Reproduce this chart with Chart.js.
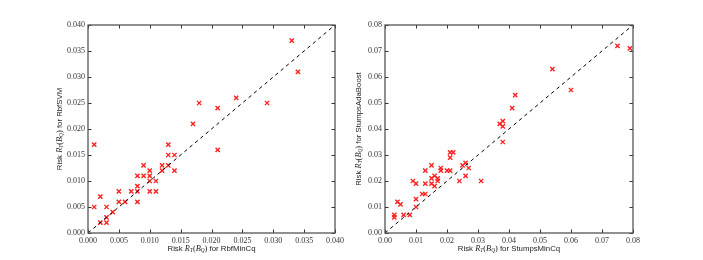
<!DOCTYPE html>
<html><head><meta charset="utf-8">
<script src="https://cdn.jsdelivr.net/npm/chart.js@4"></script>
<style>
html,body{margin:0;padding:0;background:#fff;}
#wrap{position:relative;width:703px;height:260px;}
canvas{position:absolute;top:0;}
</style></head>
<body><div id="wrap">
<canvas id="c1" style="left:0px" width="350" height="260"></canvas>
<canvas id="c2" style="left:350px" width="353" height="260"></canvas>
</div>
<script>
// ---- data (left: RbfMinCq vs RbfSVM) ----
const leftX = [0.001,0.001,0.002,0.002,0.003,0.003,0.003,0.004,0.005,0.005,0.006,0.007,0.008,0.008,0.008,0.008,0.009,0.009,0.010,0.010,0.010,0.010,0.011,0.011,0.012,0.012,0.013,0.013,0.013,0.014,0.014,0.017,0.018,0.021,0.021,0.024,0.029,0.033,0.034];
const leftY = [0.017,0.005,0.007,0.002,0.005,0.003,0.002,0.004,0.008,0.006,0.006,0.008,0.011,0.009,0.008,0.006,0.013,0.011,0.012,0.011,0.010,0.008,0.010,0.008,0.013,0.012,0.017,0.015,0.013,0.015,0.012,0.021,0.025,0.024,0.016,0.026,0.025,0.037,0.031];
const leftTicks = [0,0.005,0.010,0.015,0.020,0.025,0.030,0.035,0.040];
const leftTickLabels = ['0.000','0.005','0.010','0.015','0.020','0.025','0.030','0.035','0.040'];
// ---- data (right: StumpsMinCq vs StumpsAdaBoost) ----
const rightX = [0.003,0.003,0.004,0.005,0.006,0.008,0.009,0.010,0.010,0.010,0.012,0.013,0.013,0.013,0.015,0.015,0.015,0.016,0.016,0.017,0.017,0.018,0.018,0.020,0.021,0.021,0.021,0.022,0.024,0.025,0.026,0.026,0.027,0.031,0.037,0.038,0.038,0.038,0.041,0.042,0.054,0.060,0.075,0.079];
const rightY = [0.007,0.006,0.012,0.011,0.007,0.007,0.020,0.019,0.013,0.010,0.015,0.015,0.024,0.019,0.026,0.021,0.019,0.022,0.018,0.021,0.020,0.025,0.024,0.024,0.024,0.031,0.029,0.031,0.020,0.026,0.027,0.022,0.025,0.020,0.042,0.043,0.041,0.035,0.048,0.053,0.063,0.055,0.072,0.071];
const rightTicks = [0,0.01,0.02,0.03,0.04,0.05,0.06,0.07,0.08];
const rightTickLabels = ['0.00','0.01','0.02','0.03','0.04','0.05','0.06','0.07','0.08'];

const xTitleLeft = ['Risk ', 'for RbfMinCq'];
const yTitleLeft = ['Risk ', 'for RbfSVM'];
const xTitleRight = ['Risk ', 'for StumpsMinCq'];
const yTitleRight = ['Risk ', 'for StumpsAdaBoost'];

const SANS = '"Liberation Sans", Arial, sans-serif';
const SERIF = '"Liberation Serif", "DejaVu Serif", serif';

function drawMathTitle(ctx, parts, cx, cy, rotate) {
  const size = 7.8;
  const segs = [
    {t: parts[0], f: `${size}px ${SANS}`, dy: 0},
    {t: 'R', f: `italic ${size+0.6}px ${SERIF}`, dy: 0},
    {t: 'T', f: `italic ${size-2.5}px ${SERIF}`, dy: 1.8},
    {t: '(', f: `${size+0.6}px ${SERIF}`, dy: 0},
    {t: 'B', f: `italic ${size+0.6}px ${SERIF}`, dy: 0},
    {t: 'Q', f: `italic ${size-2.5}px ${SERIF}`, dy: 1.8},
    {t: ')', f: `${size+0.6}px ${SERIF}`, dy: 0},
    {t: ' ' + parts[1], f: `${size}px ${SANS}`, dy: 0},
  ];
  ctx.save();
  let total = 0;
  segs.forEach(s => { ctx.font = s.f; s.w = ctx.measureText(s.t).width; total += s.w; });
  ctx.translate(cx, cy);
  if (rotate) ctx.rotate(-Math.PI / 2);
  ctx.fillStyle = '#222';
  ctx.textBaseline = 'middle';
  ctx.textAlign = 'left';
  let x = -total / 2;
  segs.forEach(s => { ctx.font = s.f; ctx.fillText(s.t, x, s.dy); x += s.w; });
  ctx.restore();
}

function makeChart(id, xs, ys, ticks, tickLabels, maxV, area, xTitle, yTitle, yTitleX) {
  const pts = xs.map((x, i) => ({x: x, y: ys[i]}));
  const W = document.getElementById(id).width, H = 260;
  const framePlugin = {
    id: 'frame',
    afterDraw(chart) {
      const ctx = chart.ctx, a = chart.chartArea;
      const xs_ = chart.scales.x, ys_ = chart.scales.y;
      ctx.save();
      ctx.strokeStyle = '#333';
      ctx.lineWidth = 1;
      ticks.forEach(v => {
        const px = Math.round(xs_.getPixelForValue(v)) + 0.5;
        const py = Math.round(ys_.getPixelForValue(v)) + 0.5;
        ctx.beginPath();
        ctx.moveTo(px, a.bottom); ctx.lineTo(px, a.bottom - 3.5);
        ctx.moveTo(px, a.top); ctx.lineTo(px, a.top + 3.5);
        ctx.moveTo(a.left, py); ctx.lineTo(a.left + 3.5, py);
        ctx.moveTo(a.right, py); ctx.lineTo(a.right - 3.5, py);
        ctx.stroke();
      });
      ctx.strokeStyle = '#555';
      ctx.lineWidth = 1.3;
      ctx.strokeRect(a.left, a.top, a.right - a.left, a.bottom - a.top);
      ctx.restore();
      drawMathTitle(ctx, xTitle, (a.left + a.right) / 2, 249, false);
      drawMathTitle(ctx, yTitle, yTitleX, (a.top + a.bottom) / 2, true);
    }
  };
  const setTicks = scale => { scale.ticks = ticks.map(v => ({value: v})); };
  const zeroPad = s => { s.paddingTop = 0; s.paddingBottom = 0; s.paddingLeft = 0; s.paddingRight = 0; };
  return new Chart(document.getElementById(id), {
    type: 'scatter',
    data: {
      datasets: [
        {type: 'line', data: [{x: 0, y: 0}, {x: maxV, y: maxV}], borderColor: '#000', borderWidth: 1,
         borderDash: [3.5, 3.5], pointRadius: 0, fill: false, order: 0},
        {data: pts, pointStyle: 'crossRot', pointRadius: 3, borderWidth: 1.4,
         borderColor: '#ff2020', backgroundColor: '#ff2020', order: 1}
      ]
    },
    options: {
      responsive: false, animation: false, devicePixelRatio: 1,
      layout: {padding: {left: 0, top: area.top, right: W - area.right, bottom: 0}},
      plugins: {legend: {display: false}, tooltip: {enabled: false}},
      scales: {
        x: {type: 'linear', min: 0, max: maxV,
            afterBuildTicks: setTicks,
            afterFit: s => { s.height = H - area.bottom; zeroPad(s); },
            grid: {display: false, drawTicks: false}, border: {display: false},
            ticks: {padding: 3, autoSkip: false, maxRotation: 0, color: '#333',
                    font: {family: SERIF, size: 8},
                    callback: (v, i) => tickLabels[i]}},
        y: {type: 'linear', min: 0, max: maxV,
            afterBuildTicks: setTicks,
            afterFit: s => { s.width = area.left; zeroPad(s); },
            grid: {display: false, drawTicks: false}, border: {display: false},
            ticks: {padding: 3, autoSkip: false, color: '#333',
                    font: {family: SERIF, size: 8},
                    callback: (v, i) => tickLabels[i]}}
      }
    },
    plugins: [framePlugin]
  });
}

makeChart('c1', leftX, leftY, leftTicks, leftTickLabels, 0.04,
  {left: 88, right: 335, top: 25, bottom: 233}, xTitleLeft, yTitleLeft, 60);
makeChart('c2', rightX, rightY, rightTicks, rightTickLabels, 0.08,
  {left: 35, right: 283, top: 25, bottom: 233}, xTitleRight, yTitleRight, 9);
</script></body></html>
